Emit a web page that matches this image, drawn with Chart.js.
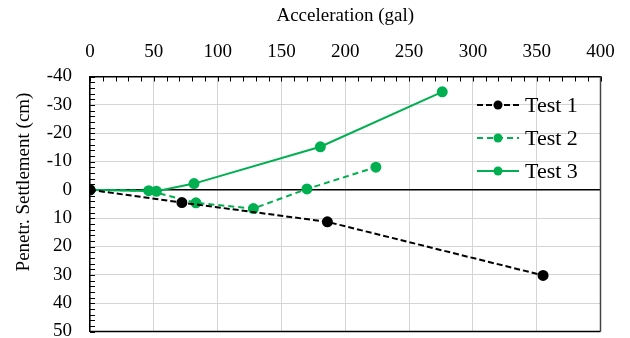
<!DOCTYPE html>
<html>
<head>
<meta charset="utf-8">
<script src="https://cdn.jsdelivr.net/npm/chart.js@4.4.0/dist/chart.umd.min.js"></script>
<style>
  body { margin: 0; background: #fff; }
  #wrap { width: 630px; height: 338px; }
</style>
</head>
<body>
<div id="wrap"><canvas id="myChart" width="630" height="338"></canvas></div>
<script>
// values
const seriesNames = ['Test 1', 'Test 2', 'Test 3']
const test1Acc = [0, 72, 186, 355]
const test1Settle = [0, 4.5, 11.3, 30.2]
const test2Acc = [0, 46, 83, 128, 170, 224]
const test2Settle = [0, 0.3, 4.6, 6.6, -0.3, -8]
const test3Acc = [0, 52, 81.5, 180.5, 276]
const test3Settle = [0, 0.5, -2.2, -15.2, -34.6]
const xTicks = [0, 50, 100, 150, 200, 250, 300, 350, 400]
const yTicks = [-40, -30, -20, -10, 0, 10, 20, 30, 40, 50]
const xTitle = 'Acceleration (gal)'
const yTitle = 'Penetr. Settlement (cm)'

const green = '#00B050'
const FONT = "'Liberation Serif', 'Times New Roman', serif"

const toPoints = (xs, ys) => xs.map((x, i) => ({ x: x, y: ys[i] }))

const makeSet = (label, xs, ys, color, dash) => ({
  label: label,
  data: toPoints(xs, ys),
  showLine: true,
  borderColor: color,
  backgroundColor: color,
  pointBackgroundColor: color,
  pointBorderColor: color,
  borderWidth: 2,
  borderDash: dash,
  pointRadius: 4.5,
  pointHoverRadius: 4.5,
  tension: 0
})

// plot box + small inward tick marks, every 10 gal and every 2 cm
const innerTicks = {
  id: 'innerTicks',
  beforeDatasetsDraw(chart) {
    const ctx = chart.ctx
    const a = chart.chartArea
    ctx.save()
    ctx.lineWidth = 1.5
    ctx.strokeStyle = '#000'
    ctx.beginPath()
    ctx.moveTo(a.left, a.bottom)
    ctx.lineTo(a.right, a.bottom)
    ctx.stroke()
    ctx.strokeStyle = '#444'
    ctx.beginPath()
    ctx.moveTo(a.right, a.top)
    ctx.lineTo(a.right, a.bottom)
    ctx.stroke()
    ctx.restore()
  },
  afterDatasetsDraw(chart) {
    const ctx = chart.ctx
    const xs = chart.scales.x
    const ys = chart.scales.y
    const area = chart.chartArea
    ctx.save()
    ctx.strokeStyle = '#000'
    ctx.lineWidth = 1
    ctx.beginPath()
    for (let v = xs.min; v <= xs.max; v += 10) {
      const px = Math.round(xs.getPixelForValue(v)) + 0.5
      ctx.moveTo(px, area.top)
      ctx.lineTo(px, area.top + 5)
    }
    for (let v = ys.min; v <= ys.max; v += 2) {
      const py = Math.round(ys.getPixelForValue(v)) + 0.5
      ctx.moveTo(area.left, py)
      ctx.lineTo(area.left + 5, py)
    }
    ctx.stroke()
    ctx.restore()
  }
}

// y title sits a bit above the middle of the plot, as in the original
const sideTitle = {
  id: 'sideTitle',
  afterDraw(chart) {
    const ctx = chart.ctx
    ctx.save()
    ctx.translate(24, 182)
    ctx.rotate(-Math.PI / 2)
    ctx.fillStyle = '#000'
    ctx.font = '19px ' + FONT
    ctx.textAlign = 'center'
    ctx.textBaseline = 'middle'
    ctx.fillText(yTitle, 0, 0)
    ctx.restore()
  }
}

// legend drawn inside the plot, no box
const insideLegend = {
  id: 'insideLegend',
  afterDraw(chart) {
    const ctx = chart.ctx
    const left = 477
    const lineLen = 42
    const rows = [105, 138, 171]
    ctx.save()
    chart.data.datasets.forEach((ds, i) => {
      const y = rows[i]
      ctx.strokeStyle = ds.borderColor
      ctx.lineWidth = 2
      ctx.setLineDash(ds.borderDash || [])
      ctx.beginPath()
      ctx.moveTo(left, y)
      ctx.lineTo(left + lineLen, y)
      ctx.stroke()
      ctx.setLineDash([])
      ctx.fillStyle = ds.pointBackgroundColor
      ctx.beginPath()
      ctx.arc(left + lineLen / 2, y, 4.5, 0, Math.PI * 2)
      ctx.fill()
      ctx.fillStyle = '#000'
      ctx.font = '22px ' + FONT
      ctx.textBaseline = 'middle'
      ctx.textAlign = 'left'
      ctx.fillText(ds.label, left + lineLen + 6, y + 1)
    })
    ctx.restore()
  }
}

const ctx = document.getElementById('myChart').getContext('2d')

const myChart = new Chart(ctx, {
  type: 'scatter',
  data: {
    datasets: [
      makeSet(seriesNames[0], test1Acc, test1Settle, '#000', [6, 3]),
      makeSet(seriesNames[1], test2Acc, test2Settle, green, [6, 4]),
      makeSet(seriesNames[2], test3Acc, test3Settle, green, [])
    ]
  },
  options: {
    responsive: false,
    animation: false,
    layout: { padding: { left: 0, right: 29.5, top: 5, bottom: 6 } },
    plugins: {
      legend: { display: false },
      tooltip: { enabled: false }
    },
    scales: {
      x: {
        type: 'linear',
        position: 'top',
        min: 0,
        max: 400,
        afterBuildTicks: (scale) => { scale.ticks = xTicks.map(v => ({ value: v })) },
        afterFit: (scale) => {
          scale.height = 71.5
          scale.paddingLeft = 0
          scale.paddingRight = 0
        },
        ticks: {
          color: '#000',
          padding: 13,
          maxRotation: 0,
          font: { family: FONT, size: 19 }
        },
        grid: { color: '#d4d4d4', lineWidth: 1, drawTicks: false },
        border: { display: true, color: '#000', width: 1.5 },
        title: {
          display: true,
          text: xTitle,
          color: '#000',
          font: { family: FONT, size: 19 },
          padding: { top: 0, bottom: 10 }
        }
      },
      y: {
        type: 'linear',
        min: -40,
        max: 50,
        reverse: true,
        afterBuildTicks: (scale) => { scale.ticks = yTicks.map(v => ({ value: v })) },
        afterFit: (scale) => {
          scale.width = 90
          scale.paddingTop = 0
          scale.paddingBottom = 0
        },
        ticks: {
          color: '#000',
          padding: 18,
          font: { family: FONT, size: 19 }
        },
        grid: {
          color: (c) => (c.tick && c.tick.value === 0 ? '#000' : '#d4d4d4'),
          lineWidth: (c) => (c.tick && c.tick.value === 0 ? 1.5 : 1),
          drawTicks: false
        },
        border: { display: true, color: '#000', width: 1.5 }
      }
    }
  },
  plugins: [innerTicks, sideTitle, insideLegend]
})
</script>
</body>
</html>
